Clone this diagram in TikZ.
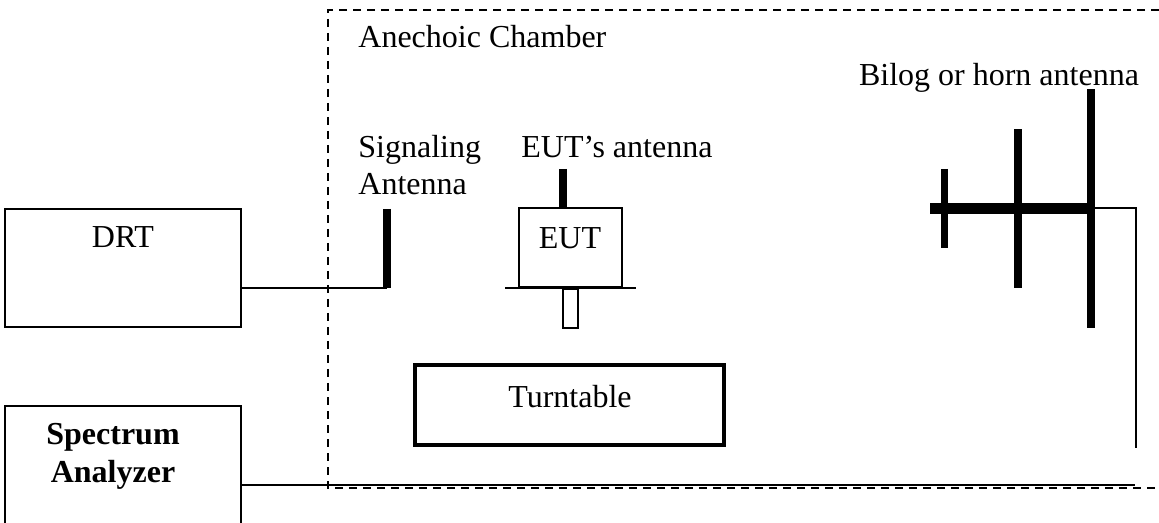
\documentclass[tikz,border=0pt]{standalone}
\usepackage{fontspec}
\setmainfont{Liberation Serif}
\usepackage{tikz}

\begin{document}
\begin{tikzpicture}[x=0.375pt,y=-0.375pt,font=\fontsize{12}{13.9}\selectfont,
    box/.style={draw,line width=0.75pt,inner sep=0pt},
    wire/.style={line width=0.75pt},
    rod/.style={line width=2.8pt},
    boom/.style={line width=4.1pt},
    wall/.style={line width=0.75pt,dash pattern=on 3pt off 2.25pt}]
    \useasboundingbox (0,0) rectangle (1159,523);
    % chamber
    \draw[wall] (1159,10) -- (328,10) -- (328,488) -- (1159,488);
    \node[anchor=base west] (chamber) at (349,48) {Anechoic Chamber};
    % DRT and signaling antenna
    \node[box,minimum width=88.5pt,minimum height=44.25pt] (drt) at (123,268) {};
    \node[anchor=base] (drtlabel) at (123,248) {DRT};
    \coordinate (sigtop) at (387,209);
    \coordinate (sigfoot) at (387,288);
    \draw[rod] (sigtop) -- (sigfoot);
    \draw[wire] (drt.east |- sigfoot) -- (sigfoot);
    \node[anchor=base west,align=left] (siglabel) at (349,195) {Signaling\\Antenna};
    % EUT on its stand
    \node[box,minimum width=38.6pt,minimum height=29.6pt] (eut) at (570.5,247.5) {};
    \node[anchor=base] (eutlabel) at (570,249) {EUT};
    \coordinate (euttop) at (563,169);
    \draw[rod] (euttop) -- (euttop |- eut.north);
    \node[anchor=base west] (eutantlabel) at (512,158) {EUT’s antenna};
    \draw[line width=1.1pt] (505,288) -- (636,288);
    \draw[wire] (563,289) rectangle (578,328);
    % turntable
    \node[box,line width=1.5pt,minimum width=115.9pt,minimum height=30pt] (turntable) at (569.5,405) {};
    \node[anchor=base] (ttlabel) at (570,407) {Turntable};
    % bilog antenna
    \coordinate (feed) at (1091,208.5);
    \draw[boom] (930,208.5) -- (feed);
    \foreach \x [count=\k] in {944.5,1018,1091}
    {
      \draw[rod] (\x,208.5-39.7*\k) -- (\x,208.5+39.7*\k);
    }
    \node[anchor=base] (biloglabel) at (999,86) {Bilog or horn antenna};
    \coordinate (downend) at (1136,448);
    \draw[wire] (feed) -- (feed -| downend) -- (downend);
    % spectrum analyzer
    \node[box,minimum width=88.5pt,minimum height=52.5pt] (sa) at (123,476) {};
    \node[anchor=base,align=center,font=\fontsize{12}{13.9}\selectfont\bfseries] (salabel) at (113,482) {Spectrum\\Analyzer};
    \coordinate (saend) at (1135,485);
    \draw[wire] (sa.east |- saend) -- (saend);
\end{tikzpicture}
\end{document}
